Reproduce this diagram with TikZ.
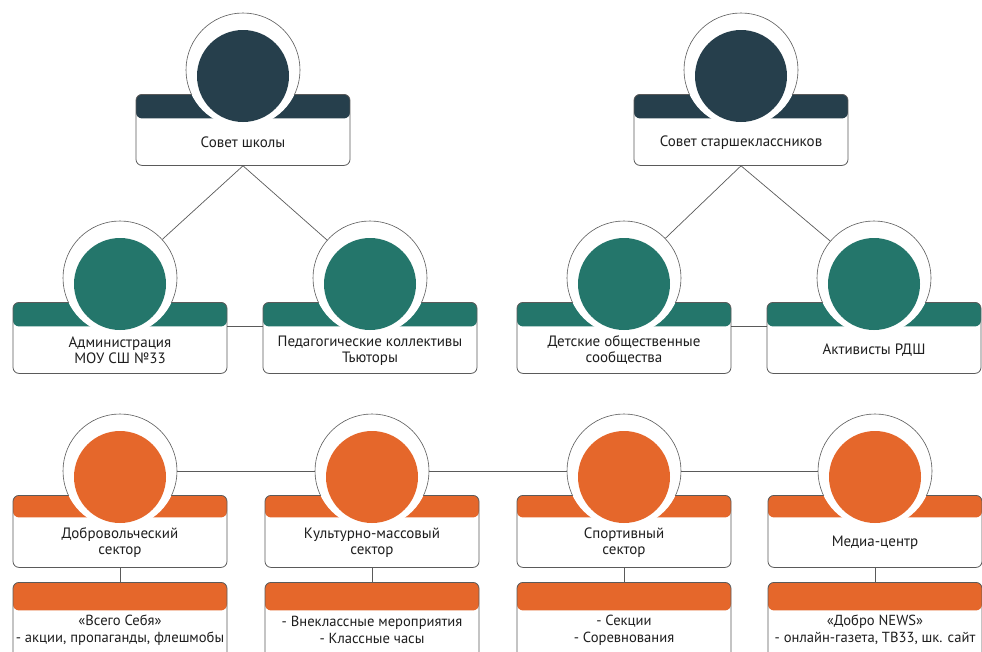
\documentclass[tikz,border=0pt]{standalone}
\usepackage{fontspec}
\setmainfont{PT Sans}
\definecolor{navy}{HTML}{263F4C}
\definecolor{tealc}{HTML}{24766B}
\definecolor{orng}{HTML}{E5672B}
\definecolor{linegray}{HTML}{5A5A5A}
\definecolor{textgray}{HTML}{1E1E1E}
\tikzset{
  blockbox/.style={draw=linegray, line width=0.8pt, rounded corners=6pt, fill=white,
    minimum width=214pt, inner sep=0pt, anchor=north},
  ringnode/.style={circle, fill=white, minimum size=114pt, inner sep=0pt},
  lbl/.style={align=center, font=\fontsize{15}{16}\selectfont, text=textgray, inner sep=0pt},
  sublbl/.style={align=center, font=\fontsize{14.6}{17}\selectfont, text=textgray, inner sep=0pt},
  conn/.style={draw=linegray, line width=0.7pt},
}
% name, x, top, colour, band height, box height, text
\newcommand\orgblock[7]{%
  \node[blockbox, minimum height=#6pt,
    path picture={\fill[#4] (path picture bounding box.north west) rectangle ([yshift=-#5pt]path picture bounding box.north east);}]
    (#1) at (#2,#3) {};
  \node[ringnode] (#1-r) at (#2,#3-24) {};
  \begin{scope}
    \clip (#2-70,#3-100) rectangle (#2+70,#3);
    \draw[linegray, line width=0.6pt] (#1-r.center) circle (57pt);
  \end{scope}
  \fill[#4] (#2,#3-18) circle (46pt);
  \node[lbl] (#1-t) at (#2,#3+#5+#6/2-#5/2+1) {#7};
}
% name, x, text
\newcommand\subblock[3]{%
  \node[blockbox, minimum height=78pt,
    path picture={\fill[orng] (path picture bounding box.north west) rectangle ([yshift=-28pt]path picture bounding box.north east);}]
    (#1) at (#2,582) {};
  \node[sublbl] (#1-t) at (#2,630) {#3};
}
\begin{document}
\begin{tikzpicture}[x=1pt,y=-1pt]
\fill[white] (0,0) rectangle (982,651);
\useasboundingbox (0,0) rectangle (982,651);

% top row
\orgblock{sovet}{243}{94}{navy}{24}{71}{Совет школы}
\orgblock{ssk}{741}{94}{navy}{24}{71}{Совет старшеклассников}

% middle row
\orgblock{adm}{120}{302}{tealc}{24}{71}{Администрация\\МОУ СШ №33}
\orgblock{ped}{370}{302}{tealc}{24}{71}{Педагогические коллективы\\Тьюторы}
\orgblock{det}{624}{302}{tealc}{24}{71}{Детские общественные\\сообщества}
\orgblock{akt}{874}{302}{tealc}{24}{71}{Активисты РДШ}

% bottom row
\orgblock{vol}{120}{495}{orng}{22}{72}{Добровольческий\\сектор}
\orgblock{kul}{372}{495}{orng}{22}{72}{Культурно-массовый\\сектор}
\orgblock{spo}{624}{495}{orng}{22}{72}{Спортивный\\сектор}
\orgblock{med}{875}{495}{orng}{22}{72}{Медиа-центр}

\subblock{vols}{120}{«Всего Себя»\\- акции, пропаганды, флешмобы}
\subblock{kuls}{372}{- Внеклассные мероприятия\\- Классные часы}
\subblock{spos}{624}{- Секции\\- Соревнования}
\subblock{meds}{875}{«Добро NEWS»\\- онлайн-газета, ТВ33, шк. сайт}

% connectors
\draw[conn] (sovet.south) -- (adm-r);
\draw[conn] (sovet.south) -- (ped-r);
\draw[conn] (ssk.south) -- (det-r);
\draw[conn] (ssk.south) -- (akt-r);
\draw[conn] ([yshift=-24pt]adm.north east) -- ([yshift=-24pt]ped.north west);
\draw[conn] ([yshift=-24pt]det.north east) -- ([yshift=-24pt]akt.north west);
\draw[conn] (vol-r.east) -- (kul-r.west);
\draw[conn] (kul-r.east) -- (spo-r.west);
\draw[conn] (spo-r.east) -- (med-r.west);
\draw[conn] (vol.south) -- (vols.north);
\draw[conn] (kul.south) -- (kuls.north);
\draw[conn] (spo.south) -- (spos.north);
\draw[conn] (med.south) -- (meds.north);
\end{tikzpicture}
\end{document}
